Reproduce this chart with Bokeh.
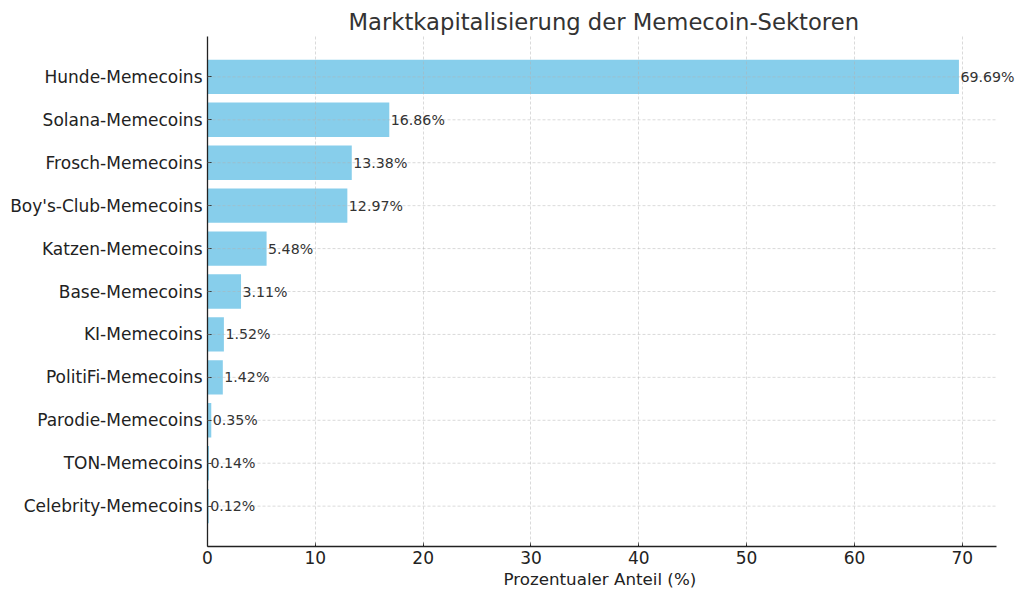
from bokeh.plotting import figure
from bokeh.models import ColumnDataSource, Range1d, FixedTicker, LabelSet, Title
from bokeh.core.properties import value
from bokeh.embed import file_html
from bokeh.resources import INLINE

categories = ["Hunde-Memecoins", "Solana-Memecoins", "Frosch-Memecoins", "Boy's-Club-Memecoins",
              "Katzen-Memecoins", "Base-Memecoins", "KI-Memecoins", "PolitiFi-Memecoins",
              "Parodie-Memecoins", "TON-Memecoins", "Celebrity-Memecoins"]
values = [69.69, 16.86, 13.38, 12.97, 5.48, 3.11, 1.52, 1.42, 0.35, 0.14, 0.12]
x_ticks = [0, 10, 20, 30, 40, 50, 60, 70]
x_label = "Prozentualer Anteil (%)"
title_text = "Marktkapitalisierung der Memecoin-Sektoren"

n = len(categories)
ypos = list(range(n))
labels = [f"{v:.2f}%" for v in values]

W, H = 1024, 600
LEFT, RIGHT_AXIS_END = 207, 996
x_lim = max(values) * 1.05                       # axis extent (like matplotlib margin)
x_end = x_lim * (W - LEFT) / (RIGHT_AXIS_END - LEFT)  # extra room for outside labels

src = ColumnDataSource(dict(y=ypos, v=values, lab=labels, cat=categories,
                            x0=[0] * n, x1=[x_lim] * n))

p = figure(width=W, height=H, output_backend="svg", toolbar_location=None,
           x_range=Range1d(0, x_end), y_range=Range1d(n - 1 + 0.94, -0.94),
           min_border_left=LEFT, min_border_right=0, min_border_top=36, min_border_bottom=54)

p.hbar(y="y", right="v", left=0, height=0.8, source=src, color="#87CEEB", line_color=None)

# horizontal grid lines limited to axis extent, drawn over bars
hg = p.segment(x0="x0", x1="x1", y0="y", y1="y", source=src, line_color="#b0b0b0",
               line_alpha=0.6, line_dash="3 2", line_width=0.8)
hg.level = "overlay"
p.ygrid.visible = False

lbl = LabelSet(x="v", y="y", text="lab", source=src, x_offset=1.5, text_baseline="middle",
               text_align="left", text_font_size="14.2px", text_color="#333333",
               text_font=value("DejaVu Sans"))
lbl.level = "overlay"
p.add_layout(lbl)

p.title.text = title_text
p.title.align = "left"
p.title.offset = 141
p.title.standoff = 4
p.title.text_font_size = "22.7px"
p.title.text_font_style = "normal"
p.title.text_color = "#333333"
p.title.text_font = "DejaVu Sans"

xl = Title(text=x_label, align="left", offset=296, text_font_size="16.7px",
           text_font_style="normal", text_color="#222222", text_font="DejaVu Sans",
           standoff=0)
p.add_layout(xl, "below")

p.xaxis.ticker = FixedTicker(ticks=x_ticks)
p.xaxis.bounds = (0, x_lim)
p.yaxis.ticker = FixedTicker(ticks=ypos)
p.yaxis.major_label_overrides = {i: c for i, c in enumerate(categories)}

for ax in (p.xaxis, p.yaxis):
    ax.major_tick_in = 4
    ax.major_tick_out = 0
    ax.minor_tick_in = 0
    ax.minor_tick_out = 0
    ax.axis_line_color = "#222222"
    ax.axis_line_width = 1.3
    ax.major_tick_line_color = "#222222"
    ax.major_label_text_font_size = "17px"
    ax.major_label_text_color = "#222222"
    ax.major_label_text_font = "DejaVu Sans"

p.xaxis.major_label_standoff = 4
p.yaxis.major_label_standoff = 5

p.xgrid.ticker = FixedTicker(ticks=x_ticks)
p.xgrid.grid_line_color = "#b0b0b0"
p.xgrid.grid_line_alpha = 0.6
p.xgrid.grid_line_dash = "3 2"
p.xgrid.grid_line_width = 0.8
p.xgrid.level = "overlay"

p.outline_line_color = None

open("out.html", "w").write(file_html(p, INLINE))
